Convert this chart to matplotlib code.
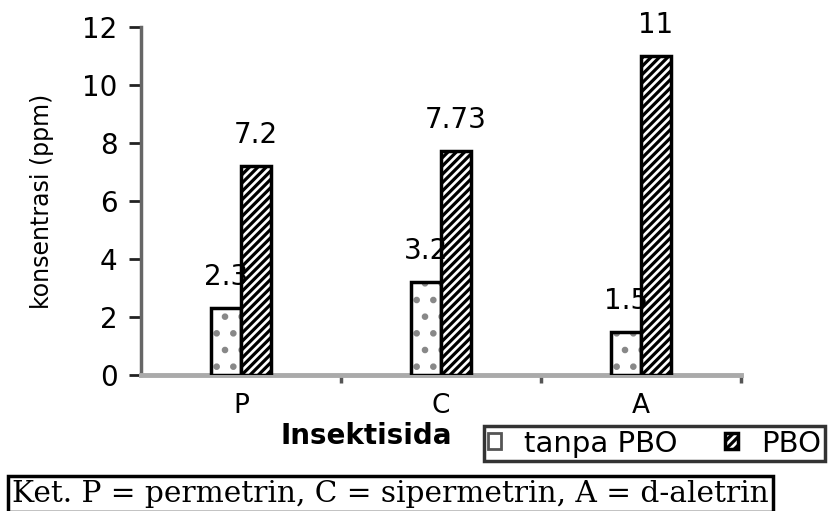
import matplotlib
matplotlib.use('Agg')
import matplotlib.pyplot as plt
import numpy as np

categories = ['P', 'C', 'A']
tanpa_pbo = [2.3, 3.2, 1.5]
pbo = [7.2, 7.73, 11]
tanpa_labels = ['2.3', '3.2', '1.5']
pbo_labels = ['7.2', '7.73', '11']
series_names = ['tanpa PBO', 'PBO']
y_ticks = [0, 2, 4, 6, 8, 10, 12]
caption = 'Ket. P = permetrin, C = sipermetrin, A = d-aletrin'

plt.rcParams['font.family'] = 'DejaVu Sans'
plt.rcParams['hatch.linewidth'] = 2.3

fig = plt.figure(figsize=(8.29, 5.11), dpi=100)
ax = fig.add_axes([141 / 829, 136 / 511, 600 / 829, 348 / 511])

x = np.arange(len(categories))
w = 0.15
# grey dotted fill for "tanpa PBO", then a black outline on top
ax.bar(x - w / 2, tanpa_pbo, w, color='white', edgecolor='#888888',
       linewidth=0, hatch='.', zorder=3)
b1 = ax.bar(x - w / 2, tanpa_pbo, w, color='none', edgecolor='black',
            linewidth=2.5, zorder=3)
b2 = ax.bar(x + w / 2, pbo, w, color='white', edgecolor='black',
            linewidth=2.5, hatch='////', zorder=3)

for bars, labels in [(b1, tanpa_labels), (b2, pbo_labels)]:
    for rect, lab in zip(bars, labels):
        ax.annotate(lab, (rect.get_x() + rect.get_width() / 2, rect.get_height()),
                    xytext=(0, 31), textcoords='offset pixels',
                    ha='center', va='center', fontsize=20, zorder=4)

ax.set_xlim(-0.5, 2.5)
ax.set_ylim(0, 12)
ax.set_yticks(y_ticks)
ax.set_xticks(x)
ax.set_xticklabels(categories)
ax.set_xticks([0.5, 1.5, 2.5], minor=True)

ax.tick_params(axis='y', labelsize=20, length=9, width=2, color='#222222', pad=8)
ax.tick_params(axis='x', which='major', labelsize=19, length=0, pad=13)
ax.tick_params(axis='x', which='minor', length=6, width=2.5, color='#555555')

for s in ['top', 'right']:
    ax.spines[s].set_visible(False)
ax.spines['left'].set_color('#666666')
ax.spines['left'].set_linewidth(2.5)
ax.spines['bottom'].set_color('#aaaaaa')
ax.spines['bottom'].set_linewidth(3.5)

ax.set_ylabel('konsentrasi (ppm)', fontsize=17)
ax.yaxis.set_label_coords(-0.145, 0.5)
fig.text(366 / 829, 1 - 436 / 511, 'Insektisida', fontsize=20, fontweight='bold',
         ha='center', va='center')

leg = fig.legend([b1, b2], series_names, loc='center',
                 bbox_to_anchor=(481 / 829, 49 / 511, 347 / 829, 37 / 511),
                 ncol=2, fontsize=21, frameon=True, fancybox=False,
                 handlelength=0.45, handleheight=0.45, handletextpad=0.8,
                 columnspacing=1.6, borderpad=0.12, borderaxespad=0)
leg.get_frame().set_edgecolor('black')
leg.get_frame().set_linewidth(2.5)
leg.legend_handles[0].set_edgecolor('#555555')
leg.legend_handles[0].set_linewidth(2)

fig.text(12 / 829, 1 - 494 / 511, caption, fontsize=21.3, family='DejaVu Serif',
         ha='left', va='center',
         bbox=dict(boxstyle='square,pad=0.15', fc='white', ec='black', lw=2.5))

fig.savefig('out.png', dpi=100)
